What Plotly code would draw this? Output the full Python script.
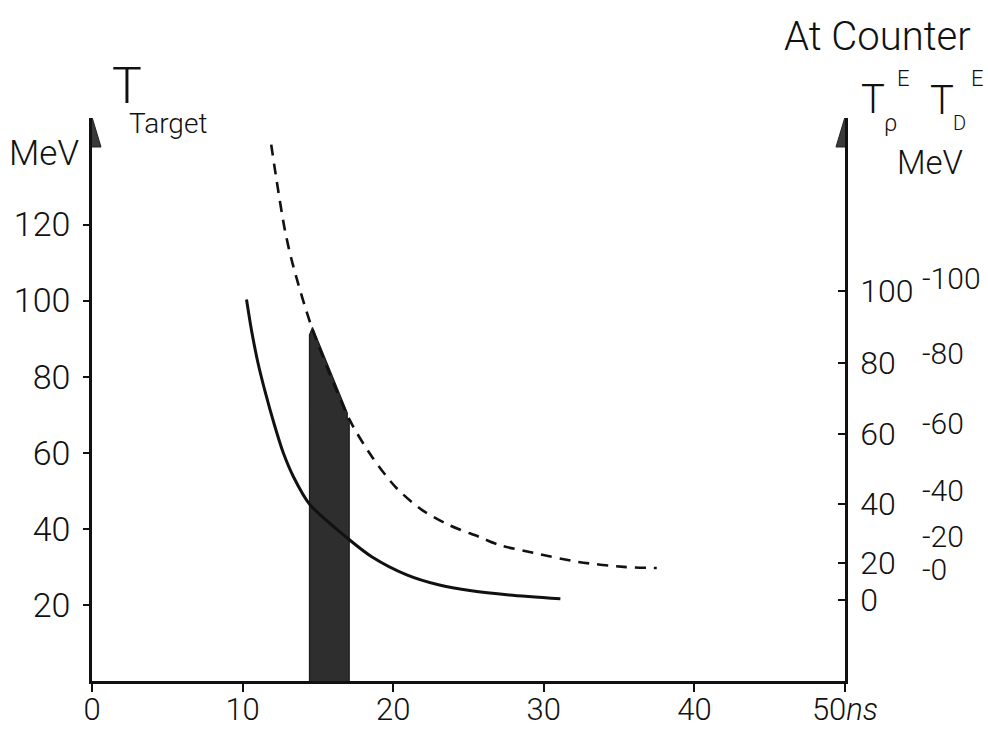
import plotly.graph_objects as go

# ---- time axis (ns) -------------------------------------------------------
x_ticks = [0, 10, 20, 30, 40, 50]
x_ticktext = ["0", "10", "20", "30", "40", "50<i>ns</i>"]

# ---- kinetic energy in the target (MeV), left scale ------------------------
y_ticks = [20, 40, 60, 80, 100, 120]

# ---- energy at the counter: non-linear right-hand scales ------------------
# proton energy T_p^E and where each value sits on the target scale
tp_labels = ["0", "20", "40", "60", "80", "100"]
tp_on_target = [21.3, 31.0, 46.5, 64.9, 83.6, 102.5]
# deuteron energy T_D^E and where each value sits on the target scale
td_labels = ["-0", "-20", "-40", "-60", "-80", "-100"]
td_on_target = [29.2, 37.9, 50.2, 67.8, 86.2, 105.9]

# ---- curves: target energy vs time of flight -------------------------------
solid_t = [10.26, 10.6, 11.0, 11.5, 12.1, 12.7, 13.4, 14.44,
           16.95, 18.6, 20.9, 23.0, 25.2, 27.7, 31.1]
solid_e = [100.3, 92.0, 84.0, 76.0, 67.5, 60.0, 53.5, 46.5,
           37.6, 32.6, 27.9, 25.3, 23.7, 22.6, 21.6]

dashed_t = [11.9, 12.25, 12.8, 13.3, 14.6, 17.1, 18.6, 20.2, 21.9,
            23.7, 25.7, 27.0, 29.3, 32.3, 35.3, 37.5]
dashed_e = [141.0, 131.8, 118.7, 110.0, 92.9, 68.7, 58.9, 50.8, 45.0,
            41.0, 37.9, 35.8, 33.7, 31.3, 30.0, 29.7]

# ---- shaded timing gate ------------------------------------------------------
gate_t = [14.44, 14.44, 14.64, 16.95, 16.95, 17.08, 17.08]
gate_e = [0.0, 91.0, 92.9, 70.5, 68.7, 68.7, 0.0]

FONT = "Roboto, Lato, Liberation Sans, sans-serif"
INK = "#111111"

# plot-area geometry in pixels (used for placing free text)
L, R, T, B = 92, 845, 118, 681


def paper(px, py):
    return (px - L) / (R - L), (B - py) / (B - T)


fig = go.Figure()

fig.add_trace(go.Scatter(
    x=gate_t, y=gate_e, mode="lines", fill="toself",
    fillcolor="#2e2e2e", line=dict(color="#1c1c1c", width=1.2),
    hoverinfo="skip", showlegend=False))

fig.add_trace(go.Scatter(
    x=solid_t, y=solid_e, mode="lines",
    line=dict(color=INK, width=3, shape="spline", smoothing=0.8),
    showlegend=False))

fig.add_trace(go.Scatter(
    x=dashed_t, y=dashed_e, mode="lines",
    line=dict(color=INK, width=2.6, dash="11px,8px", shape="spline", smoothing=0.8),
    showlegend=False))

# invisible trace so the right-hand axis is laid out
fig.add_trace(go.Scatter(x=[None], y=[None], yaxis="y2", showlegend=False,
                         hoverinfo="skip"))

annotations = []


def text(px, py, s, size, xanchor="center", yanchor="middle"):
    xp, yp = paper(px, py)
    annotations.append(dict(x=xp, y=yp, xref="paper", yref="paper", text=s,
                            showarrow=False, xanchor=xanchor, yanchor=yanchor,
                            font=dict(family=FONT, size=size, color=INK,
                                      weight=300)))


# left-hand titles
text(127, 86, "T", 50)
text(127, 123, "Target", 28, xanchor="left")
text(44, 153, "MeV", 35)

# right-hand titles
text(877, 36, "At Counter", 40)
text(873, 99, "T", 40)
text(890, 123, "ρ", 24)
text(903, 78, "E", 22)
text(942, 101, "T", 40)
text(959, 123, "D", 20)
text(977, 78, "E", 22)
text(930, 162, "MeV", 33)

# deuteron scale written beside the proton scale
for lab, pos in zip(td_labels, td_on_target):
    annotations.append(dict(x=50, y=pos, xref="x", yref="y", text=lab,
                            showarrow=False, xanchor="left", yanchor="middle",
                            xshift=75,
                            font=dict(family=FONT, size=30, color=INK,
                                      weight=300)))

# arrowheads on both energy axes
shapes = []
for xa in (0, 50):
    shapes.append(dict(type="path", xref="x", yref="y", xsizemode="pixel",
                       ysizemode="pixel", xanchor=xa, yanchor=148,
                       path="M -9 -29 L 9 -29 L 0 1 Z",
                       fillcolor="#3a3a3a", line=dict(color="#222222", width=1)))

axis_common = dict(showgrid=False, zeroline=False, showline=True,
                   automargin=False,
                   linecolor=INK, linewidth=2.5, tickcolor=INK, tickwidth=2)


def tick_font(size):
    return dict(family=FONT, size=size, color=INK, weight=300)


fig.update_layout(
    width=988, height=729,
    margin=dict(l=L, r=988 - R, t=T, b=729 - B),
    paper_bgcolor="white", plot_bgcolor="white",
    showlegend=False,
    xaxis=dict(range=[0, 50], tickmode="array", tickvals=x_ticks,
               ticktext=x_ticktext, ticks="outside", ticklen=8,
               ticklabelstandoff=-9, tickfont=tick_font(31),
               **axis_common),
    yaxis=dict(range=[0, 148], tickmode="array", tickvals=y_ticks,
               ticks="outside", ticklen=6, ticklabelstandoff=6,
               tickfont=tick_font(34), **axis_common),
    yaxis2=dict(range=[0, 148], overlaying="y", side="right", anchor="x",
                tickmode="array", tickvals=tp_on_target, ticktext=tp_labels,
                ticks="inside", ticklen=7, ticklabelstandoff=6,
                tickfont=tick_font(32), **axis_common),
    annotations=annotations,
    shapes=shapes,
)

fig.write_html("out.html")
